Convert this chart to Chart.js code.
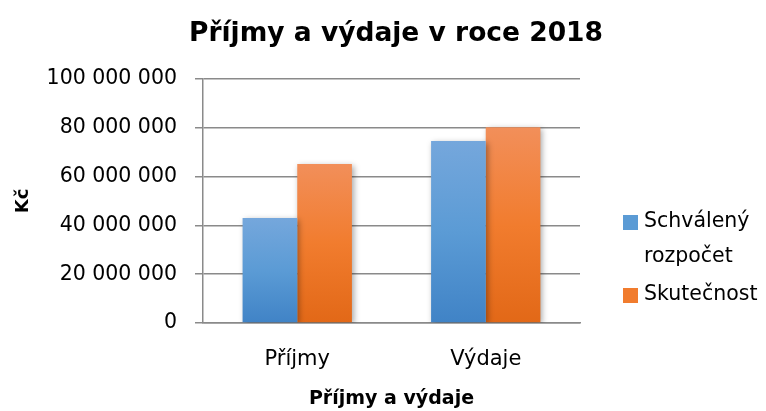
<!DOCTYPE html>
<html><head><meta charset="utf-8">
<script src="https://cdn.jsdelivr.net/npm/chart.js@4/dist/chart.umd.min.js"></script>
<style>html,body{margin:0;padding:0;background:#fff}#wrap{width:766px;height:411px}</style>
</head><body><div id="wrap"><canvas id="c" width="766" height="411"></canvas></div>
<script>
const chartTitle = "Příjmy a výdaje v roce 2018";
const categories = ["Příjmy", "Výdaje"];
const seriesNames = [["Schválený", "rozpočet"], ["Skutečnost"]];
const schvalenyRozpocet = [43000000, 74600000];
const skutecnost = [65200000, 80200000];
const yTicks = [0, 20000000, 40000000, 60000000, 80000000, 100000000];
const yTitle = "Kč";
const xTitle = "Příjmy a výdaje";

const FONT = "'DejaVu Sans', sans-serif";
const gradStops = [
  ["#75a7dc", "#5b9bd5", "#4083c6"],
  ["#f28f5a", "#f17c2e", "#e26817"]
];
function fmt(v){ return String(v).replace(/\B(?=(\d{3})+(?!\d))/g, " "); }
function barFill(di){
  return function(ctx){
    const chart = ctx.chart;
    if (!chart.chartArea || ctx.type !== 'data') return gradStops[di][1];
    const y = chart.scales.y;
    const top = y.getPixelForValue(ctx.raw);
    const base = y.getPixelForValue(0);
    const g = chart.ctx.createLinearGradient(0, top, 0, base);
    g.addColorStop(0, gradStops[di][0]);
    g.addColorStop(0.5, gradStops[di][1]);
    g.addColorStop(1, gradStops[di][2]);
    return g;
  };
}
const shadowPlugin = {
  id: 'shadow',
  beforeDatasetsDraw(chart){ const c = chart.ctx; c.save(); c.shadowColor='rgba(0,0,0,0.35)'; c.shadowBlur=6; c.shadowOffsetX=2; c.shadowOffsetY=2; },
  afterDatasetsDraw(chart){ chart.ctx.restore(); }
};
const titlePlugin = {
  id: 'fullTitle',
  afterDraw(chart){
    const c = chart.ctx; c.save();
    c.font = "bold 26.5px " + FONT; c.fillStyle = "#000"; c.textAlign = "center"; c.textBaseline = "middle";
    c.fillText(chartTitle, 396, 34);
    c.restore();
  }
};
const legendPlugin = {
  id: 'sideLegend',
  afterDraw(chart){
    const c = chart.ctx; c.save();
    c.font = "20.5px " + FONT; c.textBaseline = "middle"; c.textAlign = "left";
    let y = 222;
    chart.data.datasets.forEach((ds, i) => {
      c.fillStyle = gradStops[i][1];
      c.fillRect(623, y - 7, 15, 15);
      c.fillStyle = "#000";
      seriesNames[i].forEach((line, j) => { c.fillText(line, 644, y + j * 35); });
      y += (seriesNames[i].length - 1) * 35 + 38;
    });
    c.restore();
  }
};
new Chart(document.getElementById('c'), {
  type: 'bar',
  data: {
    labels: categories,
    datasets: [
      { label: seriesNames[0].join(' '), data: schvalenyRozpocet, backgroundColor: barFill(0), borderWidth: 0 },
      { label: seriesNames[1].join(' '), data: skutecnost, backgroundColor: barFill(1), borderWidth: 0 }
    ]
  },
  options: {
    responsive: false, animation: false, devicePixelRatio: 1,
    layout: { padding: { left: 0, right: 186, top: 79, bottom: 0 } },
    datasets: { bar: { barPercentage: 1.0, categoryPercentage: 0.58 } },
    plugins: { legend: { display: false }, tooltip: { enabled: false }, title: { display: false } },
    scales: {
      x: {
        afterFit(s){ s.height = 411 - 323; },
        grid: { display: false, drawTicks: false },
        border: { display: true, color: '#8a8a8a', width: 1.5 },
        ticks: { font: { family: FONT, size: 21 }, color: '#000', padding: 24 },
        title: { display: true, text: xTitle, font: { family: FONT, size: 19, weight: 'bold' }, color: '#000', padding: { top: 4, bottom: 1 } }
      },
      y: {
        min: 0, max: 100000000,
        afterFit(s){ s.width = 203; },
        afterBuildTicks(s){ s.ticks = yTicks.map(v => ({ value: v })); },
        grid: { color: '#8a8a8a', lineWidth: 1.5, tickLength: 8, drawTicks: true },
        border: { display: true, color: '#8a8a8a', width: 1.5 },
        ticks: { font: { family: FONT, size: 20.5 }, color: '#000', padding: 18, callback: v => fmt(v) },
        title: { display: true, text: yTitle, font: { family: FONT, size: 18, weight: 'bold' }, color: '#000', padding: { top: 13, bottom: 8 } }
      }
    }
  },
  plugins: [shadowPlugin, titlePlugin, legendPlugin]
});
</script></body></html>
